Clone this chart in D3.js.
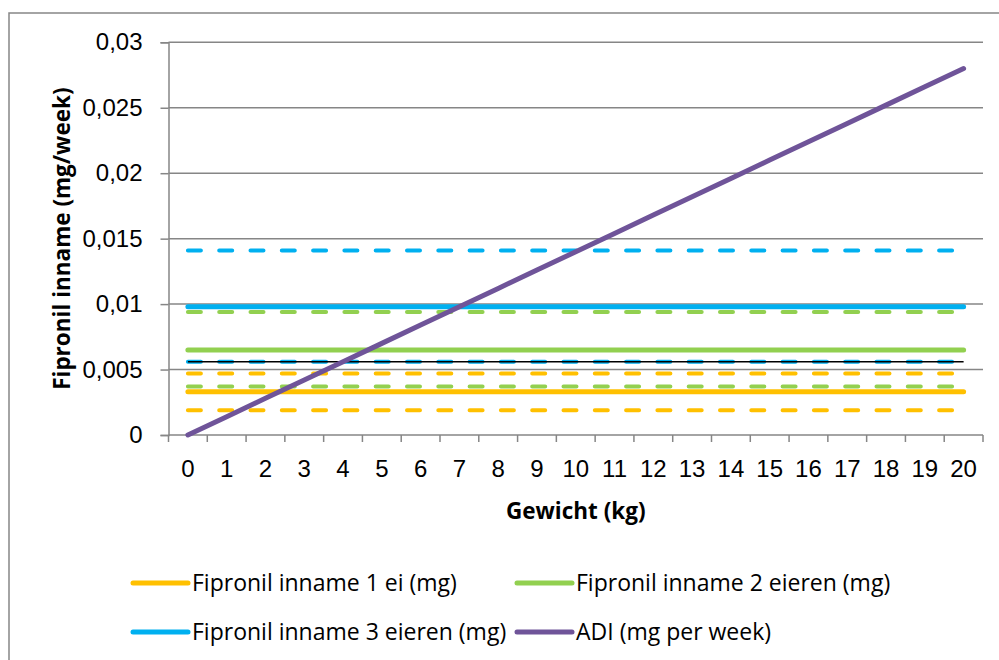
<!DOCTYPE html>
<html>
<head>
<meta charset="utf-8">
<script src="https://cdn.jsdelivr.net/npm/d3@7"></script>
<style>
  body { margin: 0; background: #fff; }
  svg { display: block; font-family: "Open Sans", sans-serif; }
</style>
</head>
<body>
<div id="chart"></div>
<script>
// Gewicht (kg) op de x-as
const gewicht = [0, 1, 2, 3, 4, 5, 6, 7, 8, 9, 10, 11, 12, 13, 14, 15, 16, 17, 18, 19, 20];

// Fipronil inname per aantal eieren (mg/week), met onder- en bovengrens
const inname1ei     = [0.0033, 0.0033, 0.0033, 0.0033, 0.0033, 0.0033, 0.0033, 0.0033, 0.0033, 0.0033, 0.0033, 0.0033, 0.0033, 0.0033, 0.0033, 0.0033, 0.0033, 0.0033, 0.0033, 0.0033, 0.0033];
const inname1eiMin  = [0.0019, 0.0019, 0.0019, 0.0019, 0.0019, 0.0019, 0.0019, 0.0019, 0.0019, 0.0019, 0.0019, 0.0019, 0.0019, 0.0019, 0.0019, 0.0019, 0.0019, 0.0019, 0.0019, 0.0019, 0.0019];
const inname1eiMax  = [0.0047, 0.0047, 0.0047, 0.0047, 0.0047, 0.0047, 0.0047, 0.0047, 0.0047, 0.0047, 0.0047, 0.0047, 0.0047, 0.0047, 0.0047, 0.0047, 0.0047, 0.0047, 0.0047, 0.0047, 0.0047];
const inname2ei     = [0.0065, 0.0065, 0.0065, 0.0065, 0.0065, 0.0065, 0.0065, 0.0065, 0.0065, 0.0065, 0.0065, 0.0065, 0.0065, 0.0065, 0.0065, 0.0065, 0.0065, 0.0065, 0.0065, 0.0065, 0.0065];
const inname2eiMin  = [0.0037, 0.0037, 0.0037, 0.0037, 0.0037, 0.0037, 0.0037, 0.0037, 0.0037, 0.0037, 0.0037, 0.0037, 0.0037, 0.0037, 0.0037, 0.0037, 0.0037, 0.0037, 0.0037, 0.0037, 0.0037];
const inname2eiMax  = [0.0094, 0.0094, 0.0094, 0.0094, 0.0094, 0.0094, 0.0094, 0.0094, 0.0094, 0.0094, 0.0094, 0.0094, 0.0094, 0.0094, 0.0094, 0.0094, 0.0094, 0.0094, 0.0094, 0.0094, 0.0094];
const inname3ei     = [0.0098, 0.0098, 0.0098, 0.0098, 0.0098, 0.0098, 0.0098, 0.0098, 0.0098, 0.0098, 0.0098, 0.0098, 0.0098, 0.0098, 0.0098, 0.0098, 0.0098, 0.0098, 0.0098, 0.0098, 0.0098];
const inname3eiMin  = [0.0056, 0.0056, 0.0056, 0.0056, 0.0056, 0.0056, 0.0056, 0.0056, 0.0056, 0.0056, 0.0056, 0.0056, 0.0056, 0.0056, 0.0056, 0.0056, 0.0056, 0.0056, 0.0056, 0.0056, 0.0056];
const inname3eiMax  = [0.0141, 0.0141, 0.0141, 0.0141, 0.0141, 0.0141, 0.0141, 0.0141, 0.0141, 0.0141, 0.0141, 0.0141, 0.0141, 0.0141, 0.0141, 0.0141, 0.0141, 0.0141, 0.0141, 0.0141, 0.0141];
// dunne zwarte lijn op de ondergrens van 3 eieren
const zwarteLijn    = [0.0056, 0.0056, 0.0056, 0.0056, 0.0056, 0.0056, 0.0056, 0.0056, 0.0056, 0.0056, 0.0056, 0.0056, 0.0056, 0.0056, 0.0056, 0.0056, 0.0056, 0.0056, 0.0056, 0.0056, 0.0056];
// ADI (mg per week)
const adi = [0, 0.0014, 0.0028, 0.0042, 0.0056, 0.007, 0.0084, 0.0098, 0.0112, 0.0126, 0.014, 0.0154, 0.0168, 0.0182, 0.0196, 0.021, 0.0224, 0.0238, 0.0252, 0.0266, 0.028];

const yTicks = [0, 0.005, 0.01, 0.015, 0.02, 0.025, 0.03];

const legendLabels = [
  'Fipronil inname 1 ei (mg)',
  'Fipronil inname 2 eieren (mg)',
  'Fipronil inname 3 eieren (mg)',
  'ADI (mg per week)'
];

const kleuren = { oranje: '#FFC000', groen: '#92D050', blauw: '#00B0F0', paars: '#6F5499' };
const grijs = '#868686';

const width = 999, height = 660;
const plot = { left: 168.5, right: 983, top: 42.3, bottom: 435 };

const svg = d3.select('#chart').append('svg')
  .attr('width', width)
  .attr('height', height);

// Kader om de grafiek (loopt rechts en onder buiten beeld)
svg.append('rect')
  .attr('x', 9).attr('y', 13)
  .attr('width', 1020).attr('height', 680)
  .attr('fill', '#fff')
  .attr('stroke', grijs)
  .attr('stroke-width', 1.5);

// Schalen
const x = d3.scaleBand().domain(gewicht).range([plot.left, plot.right]);
const xc = d => x(d) + x.bandwidth() / 2;
const y = d3.scaleLinear().domain([0, 0.03]).range([plot.bottom, plot.top]);

// Rasterlijnen
svg.append('g')
  .selectAll('line')
  .data(yTicks.filter(d => d > 0))
  .enter().append('line')
  .attr('x1', plot.left).attr('x2', plot.right)
  .attr('y1', d => y(d)).attr('y2', d => y(d))
  .attr('stroke', grijs).attr('stroke-width', 1.5);

// Y-as
const yAxis = svg.append('g')
  .attr('transform', `translate(${plot.left},0)`)
  .call(d3.axisLeft(y).tickValues(yTicks).tickSizeOuter(0).tickSize(8).tickPadding(18)
    .tickFormat(d => String(d).replace('.', ',')));
yAxis.select('.domain').attr('stroke', grijs).attr('stroke-width', 1.5);
yAxis.selectAll('.tick line').attr('stroke', grijs).attr('stroke-width', 1.5);
yAxis.selectAll('.tick text')
  .attr('fill', '#000')
  .style('font-size', '24px');

// X-as: labels in het midden, streepjes op de grenzen
const xAxis = svg.append('g')
  .attr('transform', `translate(0,${plot.bottom})`)
  .call(d3.axisBottom(x).tickSize(0).tickPadding(25));
xAxis.select('.domain').remove();
xAxis.selectAll('.tick text')
  .attr('fill', '#000')
  .style('font-size', '24px');

const grenzen = gewicht.map(d => x(d)).concat([x.range()[1]]);
svg.append('line')
  .attr('x1', plot.left).attr('x2', plot.right)
  .attr('y1', plot.bottom).attr('y2', plot.bottom)
  .attr('stroke', grijs).attr('stroke-width', 1.5);
svg.append('g')
  .selectAll('line')
  .data(grenzen)
  .enter().append('line')
  .attr('x1', d => d).attr('x2', d => d)
  .attr('y1', plot.bottom).attr('y2', plot.bottom + 7)
  .attr('stroke', grijs).attr('stroke-width', 1.5);

// Lijnen
const lijn = d3.line()
  .x((d, i) => xc(gewicht[i]))
  .y(d => y(d));

const series = [
  { data: inname1ei, kleur: kleuren.oranje, dash: null },
  { data: inname1eiMin, kleur: kleuren.oranje, dash: '13,18.3' },
  { data: inname1eiMax, kleur: kleuren.oranje, dash: '13,18.3' },
  { data: inname2ei, kleur: kleuren.groen, dash: null },
  { data: inname2eiMin, kleur: kleuren.groen, dash: '13,18.3' },
  { data: inname2eiMax, kleur: kleuren.groen, dash: '13,18.3' },
  { data: inname3ei, kleur: kleuren.blauw, dash: null },
  { data: inname3eiMin, kleur: kleuren.blauw, dash: '13,18.3' },
  { data: inname3eiMax, kleur: kleuren.blauw, dash: '13,18.3' }
];

series.forEach(s => {
  svg.append('path')
    .datum(s.data)
    .attr('d', lijn)
    .attr('fill', 'none')
    .attr('stroke', s.kleur)
    .attr('stroke-width', s.dash ? 4 : 5)
    .attr('stroke-linecap', 'round')
    .attr('stroke-dasharray', s.dash);
});

svg.append('path')
  .datum(zwarteLijn)
  .attr('d', lijn)
  .attr('fill', 'none')
  .attr('stroke', '#000')
  .attr('stroke-width', 1.5);

svg.append('path')
  .datum(adi)
  .attr('d', lijn)
  .attr('fill', 'none')
  .attr('stroke', kleuren.paars)
  .attr('stroke-width', 5)
  .attr('stroke-linecap', 'round');

// Astitels
svg.append('text')
  .attr('x', (plot.left + plot.right) / 2)
  .attr('y', 519)
  .attr('text-anchor', 'middle')
  .style('font-size', '22.5px')
  .style('font-weight', '700')
  .text('Gewicht (kg)');

svg.append('text')
  .attr('transform', `translate(70,${(plot.top + plot.bottom) / 2}) rotate(-90)`)
  .attr('text-anchor', 'middle')
  .style('font-size', '22.5px')
  .style('font-weight', '700')
  .text('Fipronil inname (mg/week)');

// Legenda
const legendKleuren = [kleuren.oranje, kleuren.groen, kleuren.blauw, kleuren.paars];
const legendPos = [[133, 583], [517, 583], [133, 632], [517, 632]];

const legend = svg.append('g')
  .selectAll('g')
  .data(legendLabels)
  .enter().append('g')
  .attr('transform', (d, i) => `translate(${legendPos[i][0]},${legendPos[i][1]})`);

legend.append('line')
  .attr('x1', 0).attr('x2', 55)
  .attr('stroke', (d, i) => legendKleuren[i])
  .attr('stroke-width', 5)
  .attr('stroke-linecap', 'round');

legend.append('text')
  .attr('x', 59)
  .attr('y', 8)
  .style('font-size', '23px')
  .text(d => d);
</script>
</body>
</html>
